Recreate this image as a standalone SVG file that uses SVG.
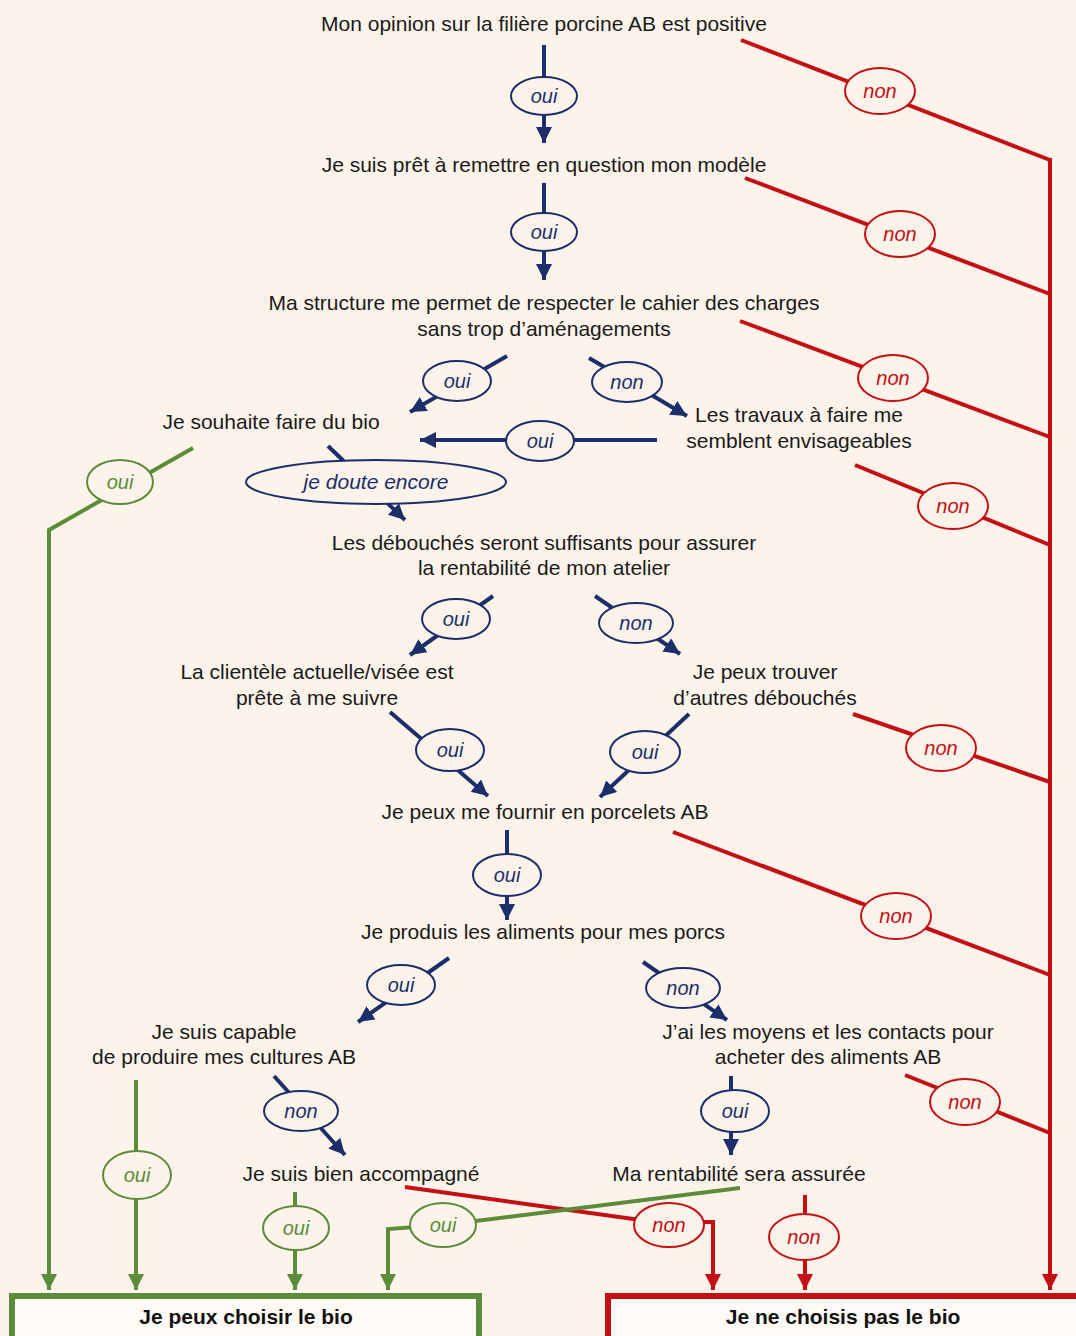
<svg xmlns="http://www.w3.org/2000/svg" width="1076" height="1336" viewBox="0 0 1076 1336">
<style>
.t{font-family:"Liberation Sans",Arial,sans-serif;font-size:21px;fill:#1a1a1a;text-anchor:middle}
.b{font-family:"Liberation Sans",Arial,sans-serif;font-size:21px;font-weight:bold;fill:#111;text-anchor:middle}
.l{font-family:"Liberation Sans",Arial,sans-serif;font-size:20px;font-style:italic;text-anchor:middle}
.nv{stroke:#1b2f6b;stroke-width:4;fill:none}
.rd{stroke:#c40f14;stroke-width:4;fill:none}
.gr{stroke:#5b8c3a;stroke-width:4;fill:none}
.on{fill:#fdf3ea;stroke:#1b2f6b;stroke-width:2}
.or{fill:#fdf3ea;stroke:#c40f14;stroke-width:2}
.og{fill:#fdf3ea;stroke:#5b8c3a;stroke-width:2}
.ln{fill:#1b2f6b}.lr{fill:#c40f14}.lg{fill:#5b8c3a}
</style>
<defs>
<marker id="an" markerUnits="userSpaceOnUse" markerWidth="18" markerHeight="18" refX="16" refY="8" orient="auto"><path d="M0,0 L16,8 L0,16 z" fill="#1b2f6b"/></marker>
<marker id="ar" markerUnits="userSpaceOnUse" markerWidth="18" markerHeight="18" refX="16" refY="8" orient="auto"><path d="M0,0 L16,8 L0,16 z" fill="#c40f14"/></marker>
<marker id="ag" markerUnits="userSpaceOnUse" markerWidth="18" markerHeight="18" refX="16" refY="8" orient="auto"><path d="M0,0 L16,8 L0,16 z" fill="#5b8c3a"/></marker>
</defs>
<rect x="0" y="0" width="1076" height="1336" fill="#fdf3ea"/>

<g id="connectors">
  <path class="nv" d="M544,45 V143" marker-end="url(#an)"/>
  <path class="nv" d="M544,183 V280" marker-end="url(#an)"/>
  <path class="nv" d="M507,356 L410,412" marker-end="url(#an)"/>
  <path class="nv" d="M589,358 L687,416" marker-end="url(#an)"/>
  <path class="nv" d="M657,440 H420" marker-end="url(#an)"/>
  <path class="nv" d="M328,446 L405,520" marker-end="url(#an)"/>
  <path class="nv" d="M493,596 L410,655" marker-end="url(#an)"/>
  <path class="nv" d="M595,596 L680,654" marker-end="url(#an)"/>
  <path class="nv" d="M390,712 L488,796" marker-end="url(#an)"/>
  <path class="nv" d="M689,714 L600,797" marker-end="url(#an)"/>
  <path class="nv" d="M507,830 V920" marker-end="url(#an)"/>
  <path class="nv" d="M449,958 L358,1022" marker-end="url(#an)"/>
  <path class="nv" d="M643,962 L727,1020" marker-end="url(#an)"/>
  <path class="nv" d="M274,1076 L345,1155" marker-end="url(#an)"/>
  <path class="nv" d="M731,1076 V1155" marker-end="url(#an)"/>
  <path class="rd" d="M741,40 L1050,160"/>
  <path class="rd" d="M745,178 L1050,294"/>
  <path class="rd" d="M740,321 L1050,437"/>
  <path class="rd" d="M855,465 L1050,545"/>
  <path class="rd" d="M853,714 L1050,782"/>
  <path class="rd" d="M673,832 L1050,975"/>
  <path class="rd" d="M905,1075 L1050,1133"/>
  <path class="rd" d="M1050,158 V1290" marker-end="url(#ar)"/>
  <path class="rd" d="M405,1187 L669,1224 M703,1222 H713 V1290" marker-end="url(#ar)"/>
  <path class="rd" d="M805,1195 V1290" marker-end="url(#ar)"/>
  <path class="gr" d="M193,448 L49,530 V1290" marker-end="url(#ag)"/>
  <path class="gr" d="M136,1080 V1290" marker-end="url(#ag)"/>
  <path class="gr" d="M295,1192 V1290" marker-end="url(#ag)"/>
  <path class="gr" d="M740,1188 L443,1225 L388,1229 V1290" marker-end="url(#ag)"/>

  <ellipse class="on" cx="544" cy="96" rx="33" ry="19"/><text class="l ln" x="544" y="103">oui</text>
  <ellipse class="on" cx="544" cy="232" rx="33" ry="19"/><text class="l ln" x="544" y="239">oui</text>
  <ellipse class="on" cx="457" cy="381" rx="34" ry="20"/><text class="l ln" x="457" y="388">oui</text>
  <ellipse class="on" cx="627" cy="382" rx="35" ry="20"/><text class="l ln" x="627" y="389">non</text>
  <ellipse class="on" cx="540" cy="441" rx="34" ry="20"/><text class="l ln" x="540" y="448">oui</text>
  <ellipse class="on" cx="376" cy="482" rx="130" ry="22"/><text class="l ln" x="376" y="489" style="font-size:21px">je doute encore</text>
  <ellipse class="on" cx="456" cy="619" rx="34" ry="20"/><text class="l ln" x="456" y="626">oui</text>
  <ellipse class="on" cx="636" cy="623" rx="37" ry="20"/><text class="l ln" x="636" y="630">non</text>
  <ellipse class="on" cx="450" cy="750" rx="34" ry="21"/><text class="l ln" x="450" y="757">oui</text>
  <ellipse class="on" cx="645" cy="752" rx="35" ry="21"/><text class="l ln" x="645" y="759">oui</text>
  <ellipse class="on" cx="507" cy="875" rx="34" ry="21"/><text class="l ln" x="507" y="882">oui</text>
  <ellipse class="on" cx="401" cy="985" rx="34" ry="20"/><text class="l ln" x="401" y="992">oui</text>
  <ellipse class="on" cx="683" cy="988" rx="37" ry="20"/><text class="l ln" x="683" y="995">non</text>
  <ellipse class="on" cx="301" cy="1111" rx="37" ry="20"/><text class="l ln" x="301" y="1118">non</text>
  <ellipse class="on" cx="735" cy="1111" rx="34" ry="21"/><text class="l ln" x="735" y="1118">oui</text>

  <ellipse class="or" cx="880" cy="91" rx="35" ry="23"/><text class="l lr" x="880" y="98">non</text>
  <ellipse class="or" cx="900" cy="234" rx="35" ry="23"/><text class="l lr" x="900" y="241">non</text>
  <ellipse class="or" cx="893" cy="378" rx="35" ry="23"/><text class="l lr" x="893" y="385">non</text>
  <ellipse class="or" cx="953" cy="506" rx="35" ry="23"/><text class="l lr" x="953" y="513">non</text>
  <ellipse class="or" cx="941" cy="748" rx="35" ry="23"/><text class="l lr" x="941" y="755">non</text>
  <ellipse class="or" cx="896" cy="916" rx="35" ry="23"/><text class="l lr" x="896" y="923">non</text>
  <ellipse class="or" cx="965" cy="1102" rx="35" ry="23"/><text class="l lr" x="965" y="1109">non</text>
  <ellipse class="or" cx="669" cy="1225" rx="35" ry="22"/><text class="l lr" x="669" y="1232">non</text>
  <ellipse class="or" cx="804" cy="1237" rx="35" ry="23"/><text class="l lr" x="804" y="1244">non</text>

  <ellipse class="og" cx="120" cy="482" rx="33" ry="22"/><text class="l lg" x="120" y="489">oui</text>
  <ellipse class="og" cx="137" cy="1175" rx="34" ry="24"/><text class="l lg" x="137" y="1182">oui</text>
  <ellipse class="og" cx="296" cy="1228" rx="33" ry="22"/><text class="l lg" x="296" y="1235">oui</text>
  <ellipse class="og" cx="443" cy="1225" rx="33" ry="22"/><text class="l lg" x="443" y="1232">oui</text>
</g>

<g id="n1"><text class="t" x="544" y="31">Mon opinion sur la filière porcine AB est positive</text></g>
<g id="n2"><text class="t" x="544" y="172">Je suis prêt à remettre en question mon modèle</text></g>
<g id="n3"><text class="t" x="544" y="310">Ma structure me permet de respecter le cahier des charges</text><text class="t" x="544" y="336">sans trop d’aménagements</text></g>
<g id="n4"><text class="t" x="271" y="429">Je souhaite faire du bio</text></g>
<g id="n5"><text class="t" x="799" y="422">Les travaux à faire me</text><text class="t" x="799" y="448">semblent envisageables</text></g>
<g id="n6"><text class="t" x="544" y="550">Les débouchés seront suffisants pour assurer</text><text class="t" x="544" y="575">la rentabilité de mon atelier</text></g>
<g id="n7"><text class="t" x="317" y="679">La clientèle actuelle/visée est</text><text class="t" x="317" y="705">prête à me suivre</text></g>
<g id="n8"><text class="t" x="765" y="679">Je peux trouver</text><text class="t" x="765" y="705">d’autres débouchés</text></g>
<g id="n9"><text class="t" x="545" y="819">Je peux me fournir en porcelets AB</text></g>
<g id="n10"><text class="t" x="543" y="939">Je produis les aliments pour mes porcs</text></g>
<g id="n11"><text class="t" x="224" y="1039">Je suis capable</text><text class="t" x="224" y="1064">de produire mes cultures AB</text></g>
<g id="n12"><text class="t" x="828" y="1039">J’ai les moyens et les contacts pour</text><text class="t" x="828" y="1064">acheter des aliments AB</text></g>
<g id="n13"><text class="t" x="361" y="1181">Je suis bien accompagné</text></g>
<g id="n14"><text class="t" x="739" y="1181">Ma rentabilité sera assurée</text></g>
<g id="bio"><rect x="12" y="1296" width="467" height="50" fill="#fffaf6" stroke="#5b8c3a" stroke-width="6"/><text class="b" x="246" y="1324">Je peux choisir le bio</text></g>
<g id="nobio"><rect x="608" y="1296" width="480" height="50" fill="#fffaf6" stroke="#c40f14" stroke-width="6"/><text class="b" x="843" y="1324">Je ne choisis pas le bio</text></g>
</svg>
